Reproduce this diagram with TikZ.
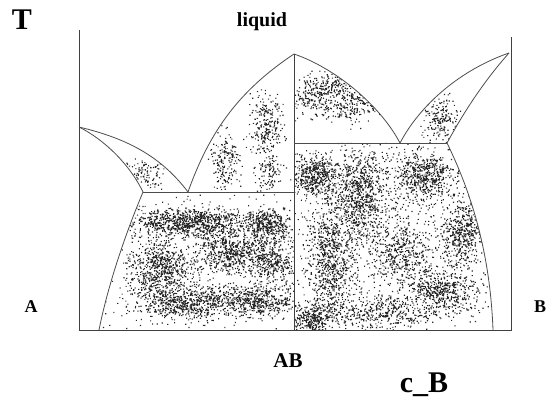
\documentclass[tikz,border=0pt]{standalone}
\usepackage{fontspec}
\setmainfont{Liberation Serif}
\begin{document}
\begin{tikzpicture}[x=1pt,y=-1pt,
  axis/.style={draw=black!75,line width=0.8pt},
  phase/.style={draw=black!70,line width=0.8pt},
  dotc/.style={fill=black!85},
  lab/.style={font=\bfseries\fontsize{#1}{#1}\selectfont,anchor=base,inner sep=0pt}]
\useasboundingbox (0,0) rectangle (548,398);
\pgfmathsetseed{7}
\newcommand\dotcluster[5]{\fill[dotc] \foreach \k in {1,...,#5}{({#1+#3*(rand+rand+rand)/1.7},{#2+#4*(rand+rand+rand)/1.7}) rectangle ++(1.15,1.15)};}
% key points
\coordinate (L0) at (79,127);
\coordinate (E1) at (188,192);
\coordinate (S1) at (143,192);
\coordinate (M0) at (294,54);
\coordinate (M1) at (294,192);
\coordinate (M2) at (294,143);
\coordinate (M3) at (294,330);
\coordinate (E2) at (400,143);
\coordinate (R0) at (509,53);
\coordinate (S2) at (447,143);
\coordinate (B1) at (99,330);
\coordinate (B2) at (493,330);
% ---------- stippling ----------
\begin{scope}
\clip (L0) .. controls (125,138) and (160,155) .. (E1) -- (S1) .. controls (130,165) and (105,140) .. (L0) -- cycle;
\dotcluster{146}{172}{16}{12}{110}
\end{scope}
\begin{scope}
\clip (E1) .. controls (210,130) and (240,90) .. (M0) -- (M1) -- cycle;
\dotcluster{225}{162}{14}{28}{190}
\dotcluster{266}{125}{14}{26}{250}
\dotcluster{268}{172}{14}{16}{110}
\end{scope}
\begin{scope}
\clip (S1) -- (M1) -- (M3) -- (B1) .. controls (108,285) and (125,235) .. (S1) -- cycle;
\dotcluster{190}{222}{50}{12}{900}
\dotcluster{268}{225}{20}{14}{420}
\dotcluster{232}{252}{30}{15}{520}
\dotcluster{160}{268}{26}{22}{600}
\dotcluster{185}{302}{42}{14}{620}
\dotcluster{255}{300}{35}{13}{520}
\dotcluster{272}{262}{20}{16}{320}
\dotcluster{200}{265}{90}{60}{550}
\end{scope}
\begin{scope}
\clip (M0) .. controls (335,68) and (380,105) .. (E2) -- (M2) -- cycle;
\dotcluster{312}{97}{16}{18}{220}
\dotcluster{352}{104}{22}{16}{220}
\dotcluster{335}{86}{14}{10}{100}
\end{scope}
\begin{scope}
\clip (E2) .. controls (420,105) and (460,70) .. (R0) .. controls (485,80) and (465,110) .. (S2) -- cycle;
\dotcluster{440}{118}{16}{18}{190}
\end{scope}
\begin{scope}
\clip (M2) -- (S2) .. controls (470,190) and (490,250) .. (B2) -- (M3) -- cycle;
\dotcluster{315}{176}{18}{18}{460}
\dotcluster{360}{192}{24}{42}{850}
\dotcluster{425}{176}{26}{20}{560}
\dotcluster{330}{262}{20}{50}{850}
\dotcluster{462}{232}{18}{26}{460}
\dotcluster{400}{252}{25}{25}{360}
\dotcluster{440}{292}{32}{20}{540}
\dotcluster{380}{312}{40}{14}{380}
\dotcluster{312}{318}{16}{12}{300}
\dotcluster{390}{240}{90}{80}{700}
\end{scope}
% ---------- axes ----------
\coordinate (AT) at (79,30);
\coordinate (AB0) at (79,330);
\coordinate (BB0) at (511,330);
\coordinate (BT) at (511,37);
\draw[axis] (AT) -- (AB0) -- (BB0) -- (BT);
\draw[axis] (M0) -- (M3);
% ---------- phase boundaries ----------
\draw[phase] (L0) .. controls (125,138) and (160,155) .. (E1);
\draw[phase] (L0) .. controls (105,140) and (130,165) .. (S1);
\draw[phase] (S1) -- (M1);
\draw[phase] (E1) .. controls (210,130) and (240,90) .. (M0);
\draw[phase] (S1) .. controls (125,235) and (108,285) .. (B1);
\draw[phase] (M0) .. controls (335,68) and (380,105) .. (E2);
\draw[phase] (M2) -- (S2);
\draw[phase] (E2) .. controls (420,105) and (460,70) .. (R0);
\draw[phase] (R0) .. controls (485,80) and (465,110) .. (S2);
\draw[phase] (S2) .. controls (470,190) and (490,250) .. (B2);
% ---------- labels ----------
\node[lab=30] (tT) at (22,30) {T};
\node[lab=20] (tliq) at (262,27) {liquid};
\node[lab=18] (tA) at (31,312) {A};
\node[lab=18] (tB) at (540,312) {B};
\node[lab=21] (tAB) at (288,367) {AB};
\node[lab=30] (tcB) at (424,392) {c\_B};
\end{tikzpicture}
\end{document}
